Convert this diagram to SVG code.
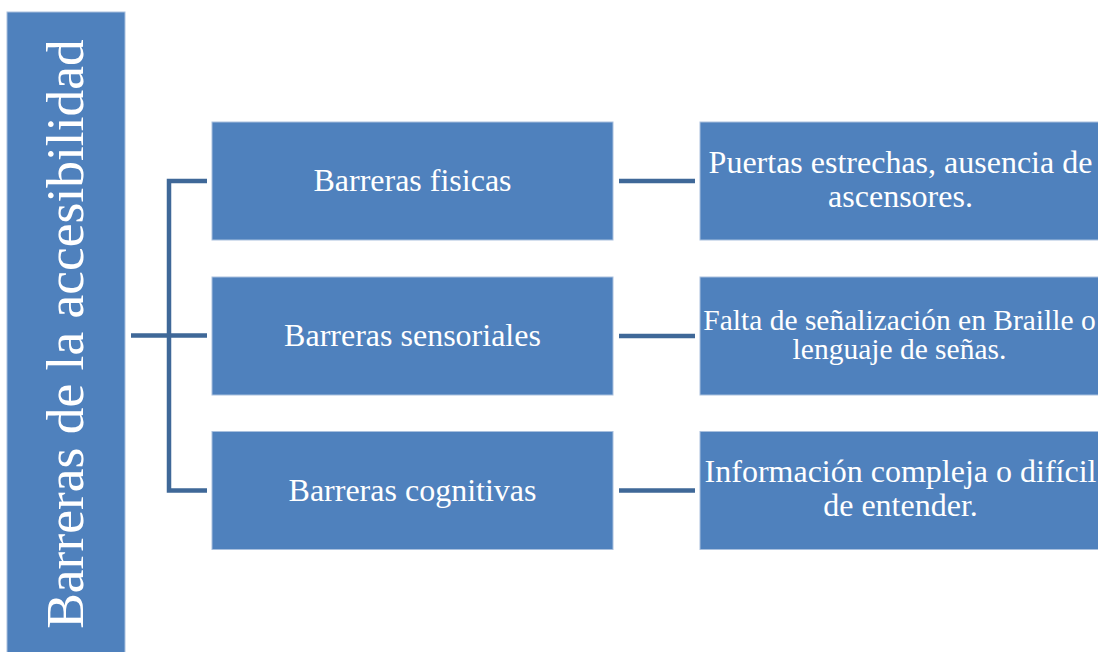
<svg xmlns="http://www.w3.org/2000/svg" width="1098" height="652" viewBox="0 0 1098 652">
<style>
.box{fill:#4f81bd;stroke:#a9c0de;stroke-width:1}
.t{font-family:"Liberation Serif","Times New Roman",serif;fill:#ffffff;text-anchor:middle}
.mid{font-size:32px}
.rt{font-size:32px}
.rs{font-size:29.5px}
.con{stroke:#3f6898;stroke-width:4.5;fill:none}
</style>
<rect width="1098" height="652" fill="#ffffff"/>
<g id="root">
<rect class="box" x="7" y="12" width="118" height="645"/>
<text class="t" font-size="53.5" transform="translate(83,334) rotate(-90)">Barreras de la accesibilidad</text>
</g>
<g id="connectors">
<path class="con" d="M131,335.5 H207 M207,181 H169 V490.5 H207"/>
<path class="con" d="M619,181 H695 M619,336 H695 M619,490.5 H695"/>
</g>
<g id="n1">
<rect class="box" x="212" y="122" width="401" height="118"/>
<text class="t mid" x="412.5" y="191">Barreras fisicas</text>
</g>
<g id="n2">
<rect class="box" x="212" y="277" width="401" height="118"/>
<text class="t mid" x="412.5" y="346">Barreras sensoriales</text>
</g>
<g id="n3">
<rect class="box" x="212" y="431.5" width="401" height="118"/>
<text class="t mid" x="412.5" y="501">Barreras cognitivas</text>
</g>
<g id="r1">
<rect class="box" x="700" y="122" width="402" height="118"/>
<text class="t rt" x="900.5" y="173">Puertas estrechas, ausencia de</text>
<text class="t rt" x="900.5" y="207">ascensores.</text>
</g>
<g id="r2">
<rect class="box" x="700" y="277" width="402" height="118"/>
<text class="t rs" x="899.5" y="330">Falta de señalización en Braille o</text>
<text class="t rs" x="899.5" y="359">lenguaje de señas.</text>
</g>
<g id="r3">
<rect class="box" x="700" y="431.5" width="402" height="118"/>
<text class="t rt" x="900.5" y="482">Información compleja o difícil</text>
<text class="t rt" x="900.5" y="516">de entender.</text>
</g>
</svg>
